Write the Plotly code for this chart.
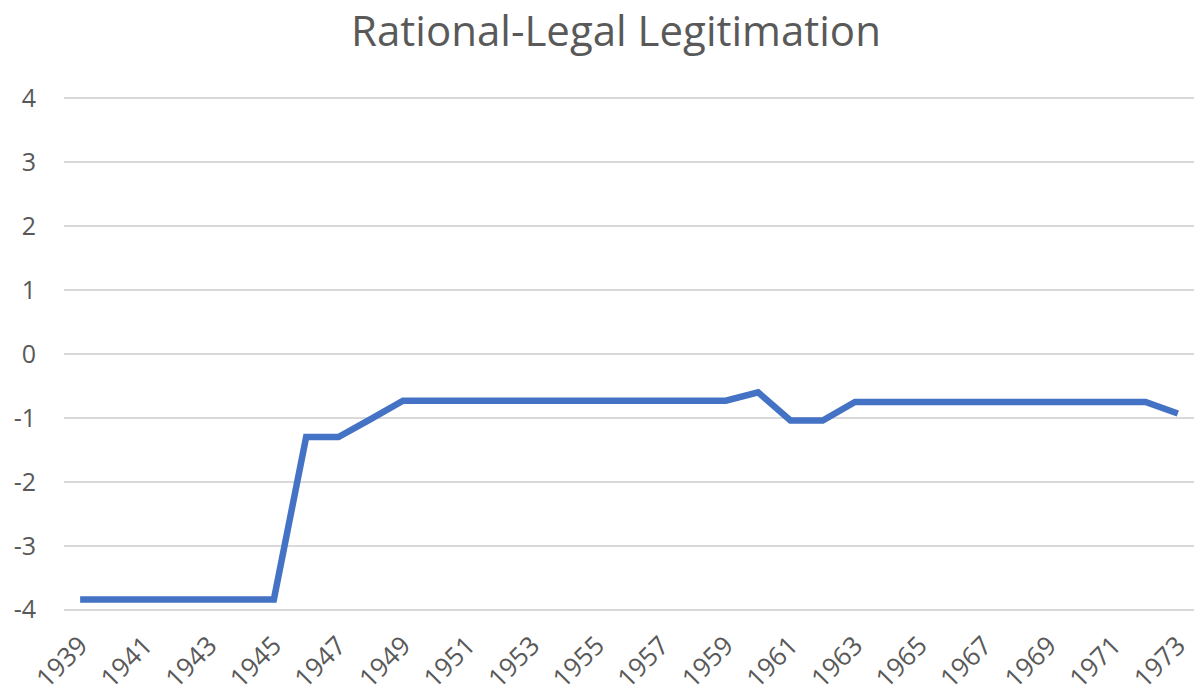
import plotly.graph_objects as go

years = list(range(1939, 1974))
values = [-3.84, -3.84, -3.84, -3.84, -3.84, -3.84, -3.84,
          -1.30, -1.30, -1.02,
          -0.73, -0.73, -0.73, -0.73, -0.73, -0.73, -0.73, -0.73, -0.73, -0.73, -0.73,
          -0.60, -1.04, -1.04,
          -0.75, -0.75, -0.75, -0.75, -0.75, -0.75, -0.75, -0.75, -0.75, -0.75,
          -0.93]
x_ticks = list(range(1939, 1974, 2))
y_ticks = [-4, -3, -2, -1, 0, 1, 2, 3, 4]

font_family = "Open Sans, Noto Sans, sans-serif"
grey = "#595959"

fig = go.Figure()
fig.add_trace(go.Scatter(x=years, y=values, mode="lines",
                         line=dict(color="#4472C4", width=6.5, shape="linear"),
                         hoverinfo="x+y"))

fig.update_layout(
    width=1194, height=698,
    paper_bgcolor="white", plot_bgcolor="white",
    margin=dict(l=64, r=0, t=97, b=87),
    showlegend=False,
    title=dict(text="Rational-Legal Legitimation", x=616/1194, xanchor="center",
               y=1 - 31/698, yanchor="middle",
               font=dict(family=font_family, size=42, color=grey)),
    xaxis=dict(range=[1938.5, 1973.5], tickmode="array", tickvals=x_ticks,
               ticktext=[str(t) for t in x_ticks], tickangle=-45,
               showgrid=False, zeroline=False, showline=False, ticks="",
               automargin=False, ticklabelstandoff=13,
               tickfont=dict(family=font_family, size=26, color=grey)),
    yaxis=dict(range=[-4.02, 4.02], tickmode="array", tickvals=y_ticks,
               ticktext=[str(t) for t in y_ticks],
               showgrid=True, gridcolor="#D9D9D9", gridwidth=2,
               zeroline=False, showline=False, ticks="", ticklabelstandoff=27,
               automargin=False,
               tickfont=dict(family=font_family, size=25, color=grey)),
)

fig.write_html("out.html", config={"displayModeBar": False},
               post_script="document.body.style.margin='0';document.body.style.overflow='hidden';")
